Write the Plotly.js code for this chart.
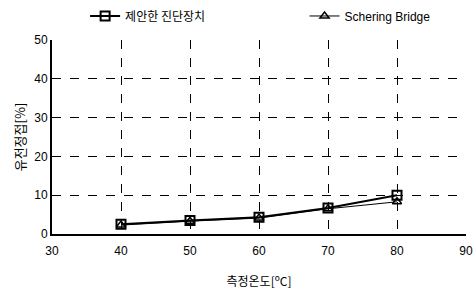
<!DOCTYPE html>
<html><head><meta charset="utf-8">
<script src="https://cdn.plot.ly/plotly-3.0.1.min.js"></script>
<style>html,body{margin:0;padding:0;background:#fff}#chart{width:473px;height:294px}</style>
</head><body><div id="chart"></div>
<script>
const temps = [40, 50, 60, 70, 80];
const proposed = [2.5, 3.5, 4.3, 6.7, 10.0];
const schering = [2.3, 3.3, 4.1, 6.5, 8.3];
const seriesNames = ['제안한 진단장치', 'Schering Bridge'];
const xTicks = [30, 40, 50, 60, 70, 80, 90];
const yTicks = [0, 10, 20, 30, 40, 50];

const font = {family: 'Liberation Sans, Arial, sans-serif', color: '#000', size: 12};
const kfont = {family: 'Noto Sans CJK KR, sans-serif', color: '#000', size: 12};

const traces = [
  {x: temps, y: proposed, name: seriesNames[0], mode: 'lines+markers', type: 'scatter', legend: 'legend',
   line: {color: '#000', width: 2}, marker: {symbol: 'square-open', size: 9, color: '#000', line: {width: 2}}},
  {x: temps, y: schering, name: seriesNames[1], mode: 'lines+markers', type: 'scatter', legend: 'legend2',
   line: {color: '#000', width: 1}, marker: {symbol: 'triangle-up-open', size: 8, color: '#000', line: {width: 1.5}}}
];

const layout = {
  width: 473, height: 294,
  margin: {l: 52, r: 7, t: 40, b: 60},
  paper_bgcolor: '#fff', plot_bgcolor: '#fff',
  showlegend: true,
  legend: {orientation: 'h', x: 0.08, xanchor: 'left', yref: 'container', y: 0.995, yanchor: 'top', font: kfont},
  legend2: {orientation: 'h', x: 0.61, xanchor: 'left', yref: 'container', y: 0.995, yanchor: 'top',
            font: {family: 'Liberation Sans, Arial, sans-serif', color: '#000', size: 12}},
  xaxis: {range: [30, 90], tickvals: xTicks, ticktext: xTicks.map(String),
          showgrid: true, gridcolor: '#000', griddash: 'dash', gridwidth: 1,
          showline: true, linecolor: '#000', linewidth: 2, zeroline: false,
          ticks: '', tickfont: font, ticklabelstandoff: 5,
          title: {text: '측정온도[<sup>o</sup>C]', font: kfont, standoff: 20}},
  yaxis: {range: [0, 50], tickvals: yTicks, ticktext: yTicks.map(String),
          showgrid: true, gridcolor: '#000', griddash: 'dash', gridwidth: 1,
          showline: true, linecolor: '#000', linewidth: 2, zeroline: false,
          ticks: '', tickfont: font,
          title: {text: '유전정접[%]', font: {family: 'Noto Sans CJK KR, sans-serif', color: '#000', size: 13}, standoff: 6}}
};
Plotly.newPlot('chart', traces, layout, {displayModeBar: false, staticPlot: true});
</script></body></html>
